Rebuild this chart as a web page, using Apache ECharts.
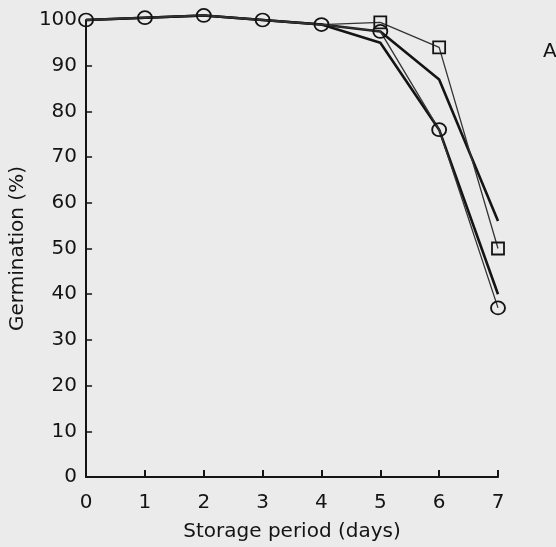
<!DOCTYPE html>
<html>
<head>
<meta charset="utf-8">
<script src="https://cdn.jsdelivr.net/npm/echarts@6/dist/echarts.min.js"></script>
<style>
  html, body { margin: 0; padding: 0; background: #ebebeb; }
  #chart { width: 556px; height: 547px; }
</style>
</head>
<body>
<div id="chart"></div>
<script>
// Storage period (days) on the x axis
const days = [0, 1, 2, 3, 4, 5, 6, 7];
// Germination (%) for each seed lot
const lotCircle = [100, 100.5, 101, 100, 99, 97.5, 76, 37];
const lotSquare = [100, 100.5, 101, 100, 99, 99.5, 94, 50];
const lotThickA = [100, 100.5, 101, 100, 99, 97.5, 87, 56];
const lotThickB = [100, 100.5, 101, 100, 99, 95, 76, 40];
// Days on which the square marker is drawn
const squareDays = [5, 6, 7];
const yTicks = [0, 10, 20, 30, 40, 50, 60, 70, 80, 90, 100];

const ink = '#141414';
const font = 'DejaVu Sans';

function pairs(vals) {
  return days.map((d, i) => [d, vals[i]]);
}

const chart = echarts.init(document.getElementById('chart'));
chart.setOption({
  backgroundColor: '#ebebeb',
  animation: false,
  title: {
    text: 'A', left: 538, top: 37,
    textStyle: { fontFamily: font, fontSize: 20, fontWeight: 'normal', color: ink }
  },
  grid: { left: 82, right: 58, top: 20, bottom: 70 },
  xAxis: {
    type: 'value', min: 0, max: 7, interval: 1,
    name: 'Storage period (days)', nameLocation: 'middle', nameGap: 45,
    nameTextStyle: { fontFamily: font, fontSize: 20, color: ink },
    axisLine: { lineStyle: { color: ink, width: 2 } },
    axisTick: { inside: true, length: 7, lineStyle: { color: ink, width: 2 } },
    axisLabel: { margin: 16, fontFamily: font, fontSize: 20, color: ink },
    splitLine: { show: false }
  },
  yAxis: {
    type: 'value', min: yTicks[0], max: yTicks[yTicks.length - 1], interval: 10,
    name: 'Germination (%)', nameLocation: 'middle', nameGap: 43,
    nameTextStyle: { fontFamily: font, fontSize: 20, color: ink },
    axisLine: { lineStyle: { color: ink, width: 2 } },
    axisTick: { inside: true, length: 6, lineStyle: { color: ink, width: 1.5 } },
    axisLabel: { margin: 9, fontFamily: font, fontSize: 20, color: ink },
    splitLine: { show: false }
  },
  series: [
    {
      type: 'line', data: pairs(lotThickA), clip: false, symbol: 'none',
      lineStyle: { color: ink, width: 2.6 }
    },
    {
      type: 'line', data: pairs(lotThickB), clip: false, symbol: 'none',
      lineStyle: { color: ink, width: 2.6 }
    },
    {
      type: 'line', clip: false,
      data: pairs(lotSquare).map(p => ({
        value: p, symbol: squareDays.includes(p[0]) ? 'rect' : 'none'
      })),
      symbolSize: 12,
      lineStyle: { color: '#333', width: 1.3 },
      itemStyle: { color: 'rgba(0,0,0,0)', borderColor: ink, borderWidth: 1.8 }
    },
    {
      type: 'line', data: pairs(lotCircle), clip: false,
      symbol: 'circle', symbolSize: [14, 13],
      lineStyle: { color: '#333', width: 1.3 },
      itemStyle: { color: 'rgba(0,0,0,0)', borderColor: ink, borderWidth: 1.8 }
    }
  ]
});
</script>
</body>
</html>
